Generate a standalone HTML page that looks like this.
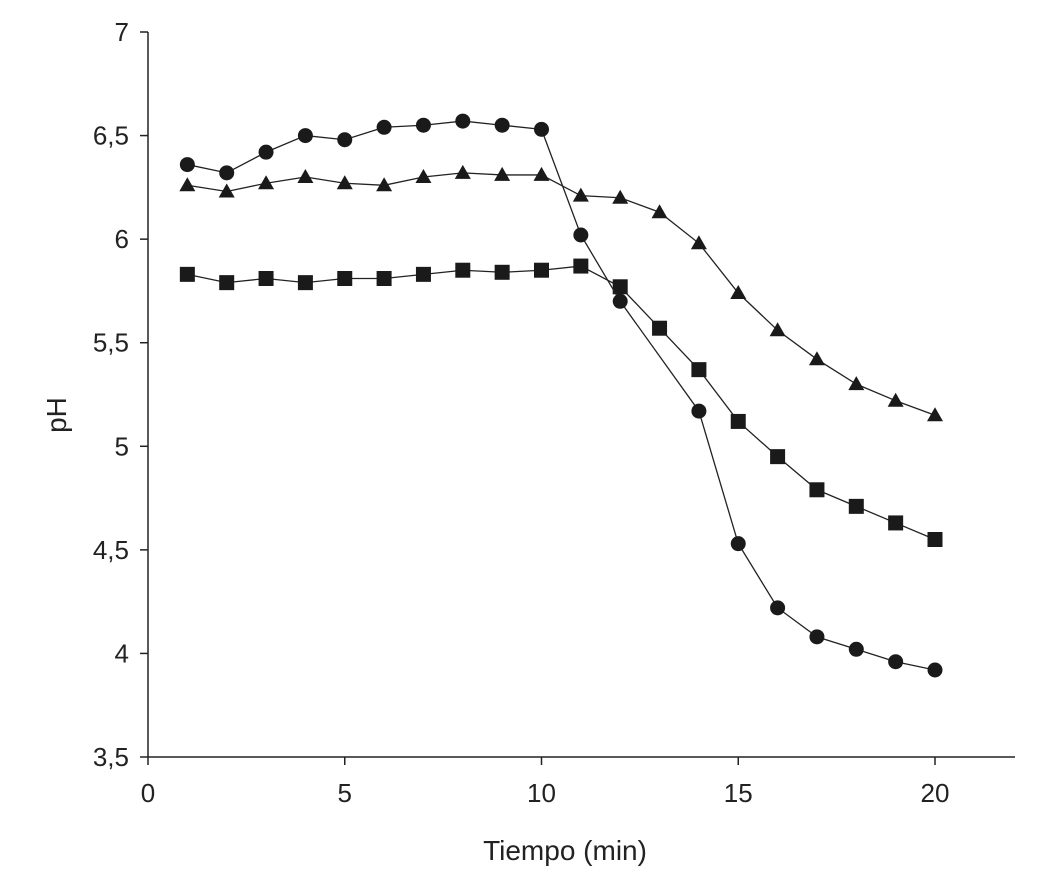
<!DOCTYPE html>
<html><head><meta charset="utf-8"><style>
body{margin:0;background:#fff}
svg text{font-family:"Liberation Sans",sans-serif;fill:#222}
</style></head><body>
<svg id="chart" width="1041" height="879" viewBox="0 0 1041 879" xmlns="http://www.w3.org/2000/svg"></svg>
<script>
const xTicks=[0,5,10,15,20];
const yTicks=[3.5,4,4.5,5,5.5,6,6.5,7];
const yTickLabels=["3,5","4","4,5","5","5,5","6","6,5","7"];
const circleX=[1,2,3,4,5,6,7,8,9,10,11,12,14,15,16,17,18,19,20];
const circleY=[6.36,6.32,6.42,6.50,6.48,6.54,6.55,6.57,6.55,6.53,6.02,5.70,5.17,4.53,4.22,4.08,4.02,3.96,3.92];
const triX=[1,2,3,4,5,6,7,8,9,10,11,12,13,14,15,16,17,18,19,20];
const triY=[6.26,6.23,6.27,6.30,6.27,6.26,6.30,6.32,6.31,6.31,6.21,6.20,6.13,5.98,5.74,5.56,5.42,5.30,5.22,5.15];
const sqX=[1,2,3,4,5,6,7,8,9,10,11,12,13,14,15,16,17,18,19,20];
const sqY=[5.83,5.79,5.81,5.79,5.81,5.81,5.83,5.85,5.84,5.85,5.87,5.77,5.57,5.37,5.12,4.95,4.79,4.71,4.63,4.55];
const svg=document.getElementById('chart');
const NS='http://www.w3.org/2000/svg';
const X=v=>148+v*(935-148)/20;
const Y=v=>757-(v-3.5)*(757-32)/3.5;
function mk(t,a,p){const e=document.createElementNS(NS,t);for(const k in a)e.setAttribute(k,a[k]);(p||svg).appendChild(e);return e;}
let ax=mk('line',{x1:148,y1:32,x2:148,y2:757,stroke:'#222','stroke-width':1.5});


ax=mk('line',{x1:148,y1:757,x2:1015,y2:757,stroke:'#222','stroke-width':1.5});


xTicks.forEach(v=>{mk('line',{x1:X(v),y1:757,x2:X(v),y2:765,stroke:'#222','stroke-width':1.5});
 const t=mk('text',{x:X(v),y:802,'text-anchor':'middle','font-size':26});t.textContent=v;
 
 });
yTicks.forEach((v,i)=>{mk('line',{x1:140,y1:Y(v),x2:148,y2:Y(v),stroke:'#222','stroke-width':1.5});
 const t=mk('text',{x:129,y:Y(v)+9,'text-anchor':'end','font-size':26});t.textContent=yTickLabels[i];
 
 });
let t=mk('text',{x:565,y:860,'text-anchor':'middle','font-size':28});t.textContent='Tiempo (min)';


t=mk('text',{x:0,y:0,'text-anchor':'middle','font-size':28,transform:'translate(66,415) rotate(-90)'});t.textContent='pH';


function series(xs,ys,shape,name){
 const g=mk('g',{});
 
 
 mk('polyline',{points:xs.map((x,i)=>X(x)+','+Y(ys[i])).join(' '),fill:'none',stroke:'#222','stroke-width':1.3},g);
 xs.forEach((x,i)=>{const cx=X(x),cy=Y(ys[i]);
  if(shape==='c')mk('circle',{cx,cy,r:7.5,fill:'#1a1a1a'},g);
  else if(shape==='s')mk('rect',{x:cx-7.5,y:cy-7.5,width:15,height:15,fill:'#1a1a1a'},g);
  else mk('polygon',{points:`${cx},${cy-8} ${cx-8},${cy+6} ${cx+8},${cy+6}`,fill:'#1a1a1a'},g);});
}
series(sqX,sqY,'s','series-squares');
series(triX,triY,'t','series-triangles');
series(circleX,circleY,'c','series-circles');
</script>
</body></html>
